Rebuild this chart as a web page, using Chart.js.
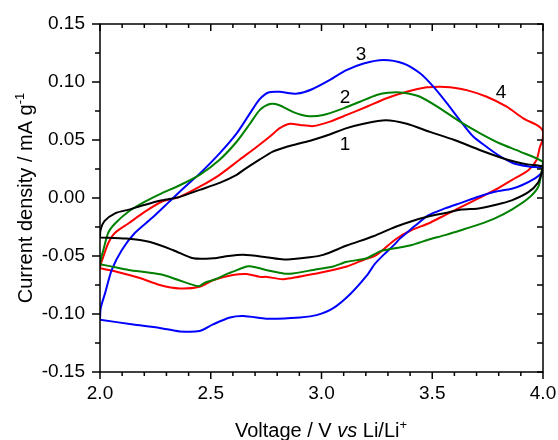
<!DOCTYPE html>
<html><head><meta charset="utf-8">
<script src="https://cdn.jsdelivr.net/npm/chart.js@4.4.1/dist/chart.umd.min.js"></script>
<style>html,body{margin:0;padding:0;background:#fff}#wrap{position:relative;width:558px;height:440px}</style>
</head><body><div id="wrap"><canvas id="c" width="558" height="440"></canvas></div>
<script>
// ---- data (voltage V vs Li/Li+, current density mA g-1), each cycle is a closed loop ----
const cycleNames = ['1', '2', '3', '4'];

const cycle1V = [2.000, 2.002, 2.02, 2.07, 2.13, 2.20, 2.28, 2.36, 2.45, 2.54, 2.617, 2.647, 2.72, 2.78, 2.84, 2.90, 2.96, 3.04, 3.11, 3.19, 3.29, 3.385, 3.49, 3.60, 3.72, 3.84, 3.93, 4.00,
  3.995, 3.977, 3.934, 3.859, 3.783, 3.708, 3.633, 3.558, 3.482, 3.407, 3.332, 3.234, 3.114, 3.008, 2.948, 2.83, 2.75, 2.647, 2.58, 2.512, 2.421, 2.331, 2.226, 2.12, 2.00];
const cycle1I = [-0.034, -0.028, -0.020, -0.013, -0.010, -0.006, -0.002, 0.001, 0.007, 0.013, 0.020, 0.024, 0.033, 0.040, 0.044, 0.047, 0.050, 0.055, 0.060, 0.064, 0.067, 0.064, 0.057, 0.050, 0.041, 0.033, 0.029, 0.027,
  0.022, 0.013, 0.005, -0.002, -0.006, -0.009, -0.010, -0.013, -0.016, -0.020, -0.025, -0.033, -0.041, -0.049, -0.051, -0.053, -0.051, -0.049, -0.050, -0.052, -0.052, -0.045, -0.038, -0.035, -0.034];

const cycle2V = [2.000, 2.005, 2.015, 2.037, 2.068, 2.128, 2.203, 2.278, 2.36, 2.45, 2.54, 2.617, 2.677, 2.722, 2.767, 2.81, 2.873, 2.933, 3.008, 3.099, 3.174, 3.249, 3.30, 3.369, 3.445, 3.535, 3.625, 3.716, 3.806, 3.896, 4.00,
  3.993, 3.979, 3.934, 3.859, 3.783, 3.708, 3.633, 3.558, 3.482, 3.407, 3.332, 3.264, 3.204, 3.114, 3.053, 2.963, 2.87, 2.828, 2.77, 2.722, 2.685, 2.662, 2.60, 2.579, 2.512, 2.474, 2.444, 2.354, 2.278, 2.128, 2.075, 2.00];
const cycle2I = [-0.057, -0.052, -0.045, -0.030, -0.022, -0.0118, -0.0032, 0.004, 0.011, 0.020, 0.033, 0.0485, 0.064, 0.076, 0.081, 0.080, 0.074, 0.0707, 0.0716, 0.0773, 0.083, 0.0888, 0.0908, 0.0908, 0.0873, 0.0773, 0.0658, 0.0558, 0.047, 0.040, 0.031,
  0.022, 0.0097, -0.0003, -0.010, -0.0175, -0.023, -0.0276, -0.032, -0.036, -0.0405, -0.0434, -0.046, -0.052, -0.055, -0.059, -0.062, -0.065, -0.065, -0.063, -0.0606, -0.059, -0.059, -0.0635, -0.065, -0.0707, -0.073, -0.076, -0.0707, -0.066, -0.062, -0.060, -0.057];

const cycle3V = [2.000, 2.003, 2.023, 2.053, 2.098, 2.158, 2.233, 2.308, 2.384, 2.45, 2.54, 2.617, 2.677, 2.72, 2.76, 2.81, 2.89, 2.96, 3.04, 3.11, 3.19, 3.28, 3.37, 3.445, 3.505, 3.565, 3.625, 3.685, 3.746, 3.806, 3.866, 3.94, 4.00,
  3.99, 3.964, 3.904, 3.859, 3.783, 3.708, 3.633, 3.558, 3.482, 3.422, 3.385, 3.354, 3.33, 3.28, 3.24, 3.204, 3.129, 3.053, 2.978, 2.903, 2.80, 2.75, 2.647, 2.587, 2.51, 2.45, 2.36, 2.27, 2.15, 2.00];
const cycle3I = [-0.105, -0.095, -0.082, -0.062, -0.045, -0.030, -0.0175, -0.004, 0.0097, 0.021, 0.0385, 0.0557, 0.073, 0.085, 0.091, 0.0915, 0.090, 0.094, 0.102, 0.110, 0.116, 0.119, 0.116, 0.1075, 0.096, 0.082, 0.067, 0.053, 0.044, 0.036, 0.030, 0.027, 0.0256,
  0.021, 0.017, 0.011, 0.008, 0.0054, 0.0011, -0.004, -0.009, -0.015, -0.024, -0.030, -0.035, -0.040, -0.049, -0.057, -0.067, -0.083, -0.095, -0.101, -0.103, -0.104, -0.104, -0.1017, -0.103, -0.109, -0.1147, -0.115, -0.112, -0.109, -0.105];

const cycle4V = [2.000, 2.005, 2.015, 2.037, 2.068, 2.128, 2.203, 2.278, 2.36, 2.45, 2.54, 2.63, 2.707, 2.767, 2.81, 2.858, 2.903, 2.963, 3.038, 3.114, 3.204, 3.294, 3.385, 3.475, 3.535, 3.58, 3.655, 3.746, 3.836, 3.911, 3.971, 3.992, 4.00,
  3.998, 3.986, 3.971, 3.934, 3.859, 3.783, 3.708, 3.633, 3.558, 3.482, 3.407, 3.332, 3.249, 3.189, 3.114, 2.978, 2.828, 2.753, 2.722, 2.662, 2.60, 2.512, 2.45, 2.36, 2.27, 2.18, 2.075, 2.00];
const cycle4I = [-0.060, -0.056, -0.0506, -0.039, -0.030, -0.022, -0.0118, -0.0032, 0.001, 0.0097, 0.020, 0.033, 0.044, 0.053, 0.060, 0.064, 0.063, 0.062, 0.0658, 0.0716, 0.0787, 0.086, 0.0916, 0.0954, 0.096, 0.0954, 0.093, 0.0873, 0.0787, 0.0687, 0.063, 0.060, 0.057,
  0.050, 0.044, 0.0328, 0.024, 0.0155, 0.0069, -0.0003, -0.0075, -0.0147, -0.022, -0.0276, -0.036, -0.049, -0.0534, -0.059, -0.065, -0.070, -0.068, -0.068, -0.0655, -0.0664, -0.0707, -0.0765, -0.078, -0.075, -0.069, -0.0635, -0.0606];

const xTickValues = [2.0, 2.5, 3.0, 3.5, 4.0];
const yTickValues = [-0.15, -0.10, -0.05, 0.00, 0.05, 0.10, 0.15];
const xMinorStep = 0.1;
const yMinorStep = 0.025;

// curve number labels anchored in data units
const curveLabelV = [3.106, 3.106, 3.178, 3.810];
const curveLabelI = [0.0457, 0.0866, 0.1233, 0.0905];

const xTitle = ['Voltage / V ', 'vs', ' Li/Li', '+'];
const yTitle = ['Current density / mA g', '-1'];

// ---- chart ----
const colors = ['#000000', '#008000', '#0000ff', '#ff0000'];
const series = [[cycle1V, cycle1I], [cycle2V, cycle2I], [cycle3V, cycle3I], [cycle4V, cycle4I]];
const FONT = '"Liberation Sans", Arial, sans-serif';

const datasets = series.map(([v, i], k) => ({
  label: cycleNames[k],
  data: v.map((x, n) => ({ x: x, y: i[n] })),
  showLine: true,
  borderColor: colors[k],
  backgroundColor: colors[k],
  borderWidth: 2,
  pointRadius: 0,
  tension: 0.25,
  fill: false
}));

const framePlugin = {
  id: 'frame',
  afterDraw(chart) {
    const { ctx, chartArea: a, scales: { x, y } } = chart;
    ctx.save();
    ctx.strokeStyle = '#000';
    ctx.lineWidth = 1.5;
    ctx.strokeRect(a.left, a.top, a.right - a.left, a.bottom - a.top);
    ctx.beginPath();
    const nx = Math.round((x.max - x.min) / xMinorStep);
    for (let k = 0; k <= nx; k++) {
      const v = x.min + k * xMinorStep;
      const major = xTickValues.some(t => Math.abs(t - v) < 1e-6);
      const L = major ? 7 : 4;
      const px = x.getPixelForValue(v);
      ctx.moveTo(px, a.bottom); ctx.lineTo(px, a.bottom + L);
      ctx.moveTo(px, a.top); ctx.lineTo(px, a.top + L);
    }
    const ny = Math.round((y.max - y.min) / yMinorStep);
    for (let k = 0; k <= ny; k++) {
      const v = y.min + k * yMinorStep;
      const major = yTickValues.some(t => Math.abs(t - v) < 1e-6);
      const L = major ? 8 : 5;
      const py = y.getPixelForValue(v);
      ctx.moveTo(a.left - L, py); ctx.lineTo(a.left, py);
      ctx.moveTo(a.right, py); ctx.lineTo(a.right - 6, py);
    }
    ctx.stroke();

    // curve labels
    ctx.fillStyle = '#000';
    ctx.font = '19px ' + FONT;
    ctx.textAlign = 'center';
    ctx.textBaseline = 'middle';
    cycleNames.forEach((t, k) => {
      ctx.fillText(t, x.getPixelForValue(curveLabelV[k]), y.getPixelForValue(curveLabelI[k]));
    });

    // x title
    ctx.textAlign = 'left';
    ctx.textBaseline = 'alphabetic';
    const fN = '20px ' + FONT, fI = 'italic 20px ' + FONT, fS = '13px ' + FONT;
    const parts = [[xTitle[0], fN, 0], [xTitle[1], fI, 0], [xTitle[2], fN, 0], [xTitle[3], fS, -8]];
    let w = 0;
    parts.forEach(p => { ctx.font = p[1]; w += ctx.measureText(p[0]).width; });
    let cx = (a.left + a.right) / 2 - w / 2 - 0.5;
    const by = 437;
    parts.forEach(p => { ctx.font = p[1]; ctx.fillText(p[0], cx, by + p[2]); cx += ctx.measureText(p[0]).width; });

    // y title (rotated)
    ctx.save();
    ctx.translate(32, (a.top + a.bottom) / 2);
    ctx.rotate(-Math.PI / 2);
    const yparts = [[yTitle[0], fN, 0], [yTitle[1], fS, -8]];
    w = 0;
    yparts.forEach(p => { ctx.font = p[1]; w += ctx.measureText(p[0]).width; });
    cx = -w / 2;
    yparts.forEach(p => { ctx.font = p[1]; ctx.fillText(p[0], cx, p[2]); cx += ctx.measureText(p[0]).width; });
    ctx.restore();
    ctx.restore();
  }
};

new Chart(document.getElementById('c'), {
  type: 'scatter',
  data: { datasets },
  options: {
    responsive: false,
    animation: false,
    devicePixelRatio: 1,
    layout: { padding: { left: 0, right: 15, top: 24, bottom: 0 } },
    plugins: { legend: { display: false }, tooltip: { enabled: false } },
    scales: {
      x: {
        type: 'linear', min: 2.0, max: 4.0,
        grid: { display: false, drawTicks: false },
        border: { display: false },
        afterBuildTicks: s => { s.ticks = xTickValues.map(v => ({ value: v })); },
        ticks: {
          color: '#000', padding: 10,
          font: { family: FONT, size: 19 },
          callback: v => Number(v).toFixed(1)
        },
        afterFit: s => { s.height = 68; s.paddingLeft = 0; s.paddingRight = 0; }
      },
      y: {
        type: 'linear', min: -0.15, max: 0.15,
        grid: { display: false, drawTicks: false },
        border: { display: false },
        afterBuildTicks: s => { s.ticks = yTickValues.map(v => ({ value: v })); },
        ticks: {
          color: '#000', padding: 15,
          font: { family: FONT, size: 19 },
          callback: v => (Math.abs(v) < 1e-9 ? 0 : Number(v)).toFixed(2)
        },
        afterFit: s => { s.width = 100; s.paddingTop = 0; s.paddingBottom = 0; }
      }
    }
  },
  plugins: [framePlugin]
});
</script>
</body></html>
